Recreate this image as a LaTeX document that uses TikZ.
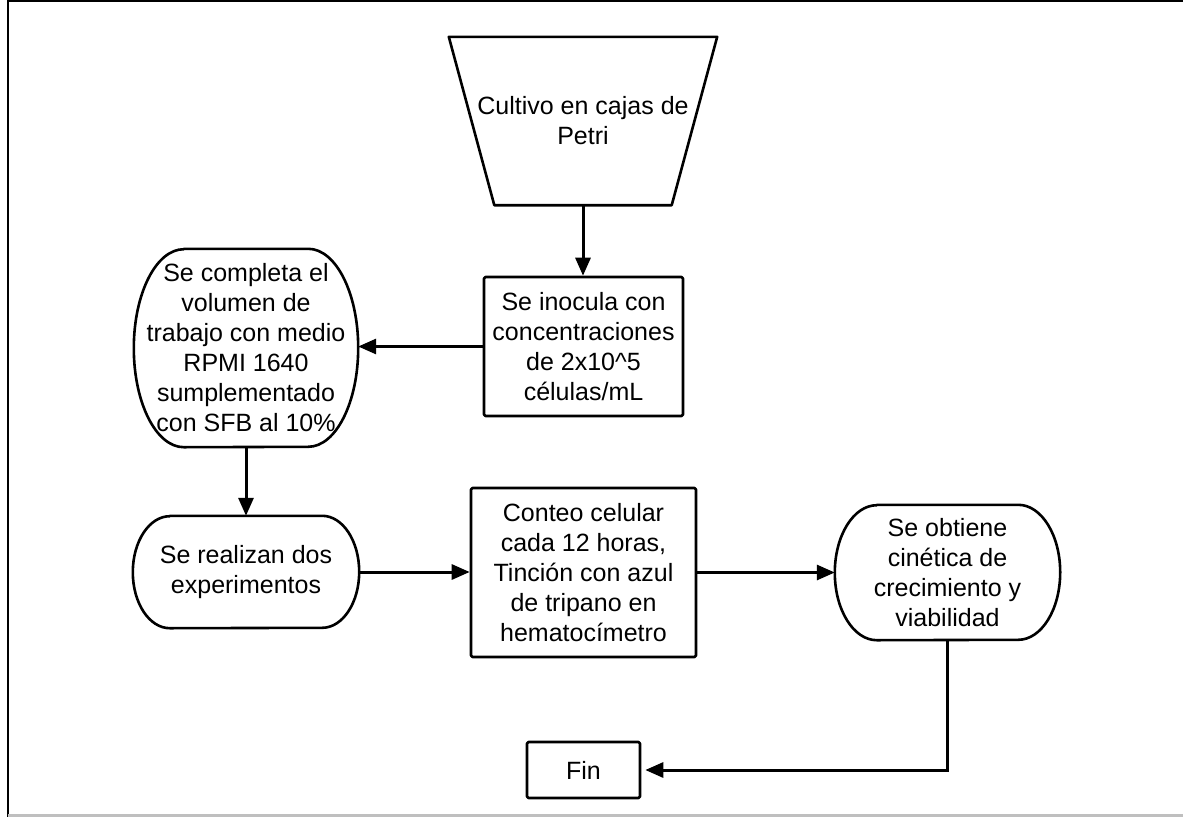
\documentclass[tikz,border=0pt]{standalone}
\usepackage{fontspec}
\setmainfont{Liberation Sans}
\usetikzlibrary{arrows.meta}
\begin{document}
\begin{tikzpicture}[x=1pt,y=-1pt,
  txt/.style={font=\fontsize{25}{30}\selectfont, align=center, inner sep=0pt},
  shp/.style={draw=black, line width=2.6pt, line join=round},
  arr/.style={line width=3pt, -{Triangle[length=18pt,width=15pt]}},
  boxnode/.style={txt, shp, rounded corners=1.5pt},
  frameline/.style={line width=2.4pt}
]
\useasboundingbox (0,0) rectangle (1183,817);
\draw[frameline] (8,0) -- (8,817);
\draw[frameline] (8,1) -- (1183,1);
\draw[frameline, color=black!25] (8,815.5) -- (1183,815.5);

% trapezoid
\node[txt, minimum width=268pt, minimum height=168pt] (n1) at (583,121) {Cultivo en cajas de\\Petri};
\draw[shp] (n1.north west) -- (n1.north east) -- ([xshift=-45.5pt]n1.south east) -- ([xshift=45.5pt]n1.south west) -- cycle;

% inoculation box
\node[boxnode, minimum width=199pt, minimum height=139pt] (n2) at (583.5,346.5) {Se inocula con\\concentraciones\\de 2x10\^{}5\\células/mL};

% tall terminator
\node[txt, minimum width=224pt, minimum height=198pt] (n3) at (246,348) {Se completa el\\volumen de\\trabajo con medio\\RPMI 1640\\sumplementado\\con SFB al 10\%};
\draw[shp] ([xshift=50pt]n3.north west) -- ([xshift=-50pt]n3.north east) arc[start angle=90, end angle=-90, x radius=50pt, y radius=99pt] -- ([xshift=50pt]n3.south west) arc[start angle=270, end angle=90, x radius=50pt, y radius=99pt] -- cycle;

% experiments terminator
\node[txt, minimum width=226pt, minimum height=112pt] (n4) at (246,572) {Se realizan dos\\experimentos};
\draw[shp] ([xshift=37pt]n4.north west) -- ([xshift=-37pt]n4.north east) arc[start angle=90, end angle=-90, x radius=37pt, y radius=56pt] -- ([xshift=37pt]n4.south west) arc[start angle=270, end angle=90, x radius=37pt, y radius=56pt] -- cycle;

% counting box
\node[boxnode, minimum width=225pt, minimum height=169pt] (n5) at (583.5,572.5) {Conteo celular\\cada 12 horas,\\Tinción con azul\\de tripano en\\hematocímetro};

% result terminator
\node[txt, minimum width=225pt, minimum height=135pt] (n6) at (947.5,572.5) {Se obtiene\\cinética de\\crecimiento y\\viabilidad};
\draw[shp] ([xshift=42pt]n6.north west) -- ([xshift=-42pt]n6.north east) arc[start angle=90, end angle=-90, x radius=42pt, y radius=67.5pt] -- ([xshift=42pt]n6.south west) arc[start angle=270, end angle=90, x radius=42pt, y radius=67.5pt] -- cycle;

% end box
\node[boxnode, minimum width=113pt, minimum height=56pt] (n7) at (583.5,770) {Fin};

% connectors
\draw[arr] (n1.south) -- (n1.south |- n2.north);
\draw[arr] (n2.west) -- (n2.west -| n3.east);
\draw[arr] (n3.south) -- (n4.north);
\draw[arr] (n4.east) -- (n4.east -| n5.west);
\draw[arr] (n5.east) -- (n5.east -| n6.west);
\draw[arr] (n6.south) |- ([xshift=4pt]n7.east);
\end{tikzpicture}
\end{document}
